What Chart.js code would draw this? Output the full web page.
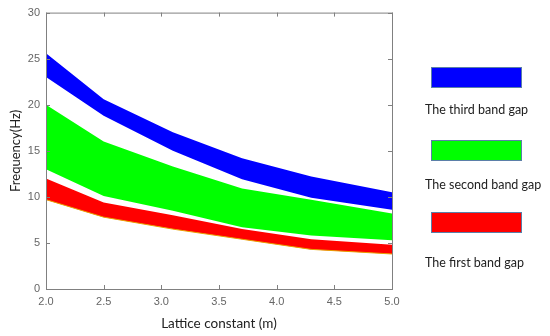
<!DOCTYPE html>
<html>
<head>
<meta charset="utf-8">
<script src="https://cdn.jsdelivr.net/npm/chart.js@4"></script>
<style>
    body { margin: 0; background: #fff; }
    #wrap { position: relative; width: 550px; height: 336px; }
    .box { position: absolute; left: 431px; width: 89px; height: 19px; border: 1px solid #5b7fa8; }
    .lbl { position: absolute; left: 425px; font-family: Lato, sans-serif; font-size: 12.5px; color: #222; line-height: 16px; }
</style>
</head>
<body>
<div id="wrap">
    <canvas id="bandChart" width="550" height="336"></canvas>
    <div class="box" style="top:67px; background:#0000ff"></div>
    <div class="lbl" style="top:102px">The third band gap</div>
    <div class="box" style="top:140px; background:#00ff00"></div>
    <div class="lbl" style="top:177px">The second band gap</div>
    <div class="box" style="top:212px; background:#ff0000"></div>
    <div class="lbl" style="top:255px">The first band gap</div>
</div>
<script>
// lattice constant (m)
const latticeX = [2.0, 2.5, 3.1, 3.7, 4.3, 5.0];

// band gap edges (Hz)
const thirdTop = [25.6, 20.6, 17.0, 14.2, 12.2, 10.5];
const thirdBottom = [23.0, 18.8, 15.0, 11.9, 9.9, 8.6];
const secondTop = [20.0, 16.0, 13.3, 10.9, 9.7, 8.2];
const secondBottom = [13.0, 10.1, 8.5, 6.7, 5.8, 5.3];
const firstTop = [12.0, 9.4, 8.0, 6.5, 5.4, 4.8];
const firstBottom = [9.7, 7.8, 6.5, 5.4, 4.3, 3.8];

const xTicks = [2.0, 2.5, 3.0, 3.5, 4.0, 4.5, 5.0];
const yTicks = [0, 5, 10, 15, 20, 25, 30];

function toPoints(ys) {
    return latticeX.map((x, i) => ({ x: x, y: ys[i] }));
}

function edge(ys, color, width) {
    return {
        data: toPoints(ys),
        borderColor: color,
        borderWidth: width,
        pointRadius: 0,
        tension: 0,
        fill: false
    };
}

function band(ys, color) {
    return {
        data: toPoints(ys),
        borderColor: color,
        borderWidth: 0,
        backgroundColor: color,
        pointRadius: 0,
        tension: 0,
        fill: '-1'
    };
}

// frame with inward ticks on all four sides, matlab style
const framePlugin = {
    id: 'frame',
    afterDraw(chart) {
        const ctx = chart.ctx;
        const a = chart.chartArea;
        const xs = chart.scales.x;
        const ys = chart.scales.y;
        ctx.save();
        ctx.strokeStyle = '#808080';
        ctx.lineWidth = 1;
        ctx.strokeRect(a.left + 0.5, a.top + 0.5, a.right - a.left, a.bottom - a.top);
        ctx.beginPath();
        xTicks.forEach(v => {
            const px = Math.round(xs.getPixelForValue(v)) + 0.5;
            ctx.moveTo(px, a.bottom); ctx.lineTo(px, a.bottom - 4);
            ctx.moveTo(px, a.top); ctx.lineTo(px, a.top + 4);
        });
        yTicks.forEach(v => {
            const py = Math.round(ys.getPixelForValue(v)) + 0.5;
            ctx.moveTo(a.left, py); ctx.lineTo(a.left + 4, py);
            ctx.moveTo(a.right, py); ctx.lineTo(a.right - 4, py);
        });
        ctx.stroke();
        ctx.restore();
    }
};

const ctx = document.getElementById('bandChart').getContext('2d');
new Chart(ctx, {
    type: 'line',
    data: {
        datasets: [
            edge(thirdBottom, '#0000ff', 0),
            band(thirdTop, '#0000ff'),
            edge(secondBottom, '#00ff00', 0),
            band(secondTop, '#00ff00'),
            edge(firstBottom, '#e8a000', 1),
            band(firstTop, '#ff0000')
        ]
    },
    options: {
        responsive: false,
        animation: false,
        layout: { padding: { top: 11, right: 158, left: 0, bottom: 0 } },
        plugins: {
            legend: { display: false },
            tooltip: { enabled: false }
        },
        scales: {
            x: {
                type: 'linear',
                min: 2,
                max: 5,
                afterBuildTicks: s => { s.ticks = xTicks.map(v => ({ value: v })); },
                afterFit: s => { s.height = 47; },
                grid: { display: false, drawTicks: false },
                border: { display: false },
                ticks: {
                    padding: 6,
                    color: '#666',
                    font: { family: 'Liberation Sans', size: 11 },
                    callback: v => v.toFixed(1)
                },
                title: {
                    display: true,
                    text: 'Lattice constant (m)',
                    color: '#222',
                    font: { family: 'Lato', size: 13.5 },
                    padding: { top: 0, bottom: 4 }
                }
            },
            y: {
                min: 0,
                max: 30,
                afterBuildTicks: s => { s.ticks = yTicks.map(v => ({ value: v })); },
                afterFit: s => { s.width = 46; },
                grid: { display: false, drawTicks: false },
                border: { display: false },
                ticks: {
                    padding: 6,
                    color: '#666',
                    font: { family: 'Liberation Sans', size: 11 }
                },
                title: {
                    display: true,
                    text: 'Frequency(Hz)',
                    color: '#222',
                    font: { family: 'Lato', size: 13 },
                    padding: { top: 8, bottom: 0 }
                }
            }
        }
    },
    plugins: [framePlugin]
});
</script>
</body>
</html>
